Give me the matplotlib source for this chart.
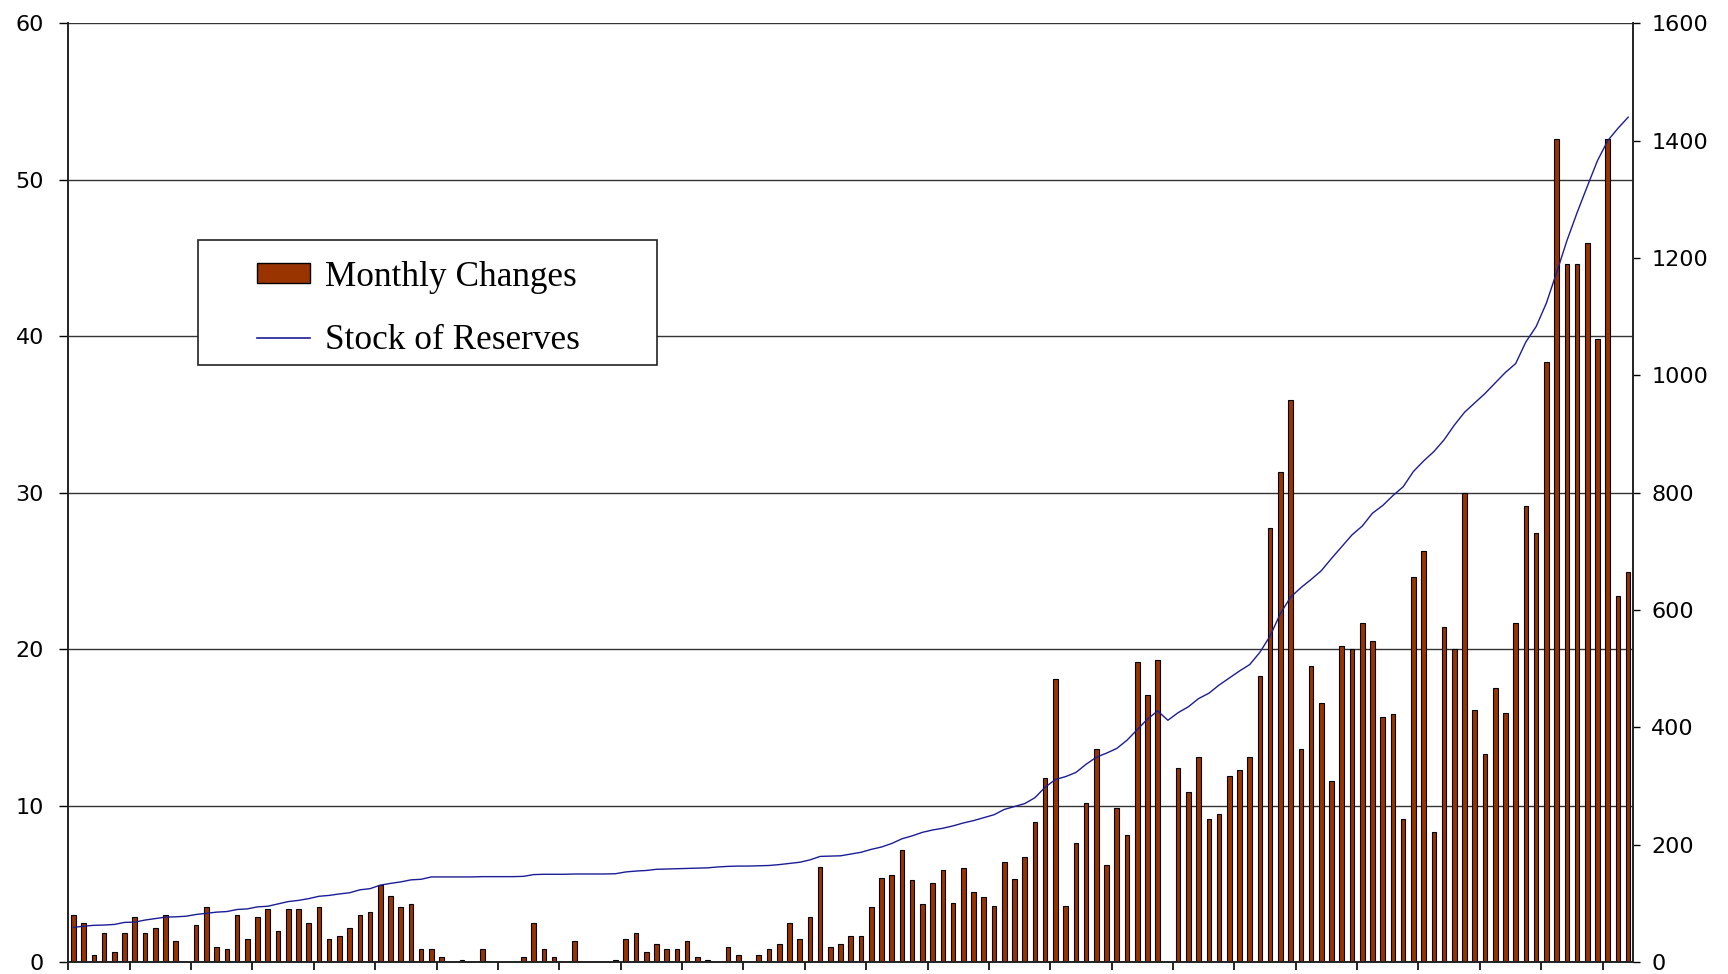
import numpy as np
import matplotlib.pyplot as plt
from matplotlib.patches import Rectangle
from matplotlib.lines import Line2D

# monthly data, 153 months
months = np.arange(153)

monthly_changes = [
    3.02, 2.51, 0.47, 1.83, 0.64, 1.83, 2.85, 1.83, 2.17, 3.02, 1.32, 0.0,
    2.34, 3.53, 0.98, 0.81, 3.02, 1.49, 2.85, 3.36, 2.00, 3.36, 3.36, 2.51,
    3.53, 1.49, 1.66, 2.17, 3.02, 3.19, 4.89, 4.21, 3.53, 3.70, 0.81, 0.81,
    0.30, 0.0, 0.15, 0.0, 0.81, 0.0, 0.0, 0.0, 0.30, 2.51, 0.81, 0.30,
    0.0, 1.32, 0.0, 0.0, 0.0, 0.15, 1.49, 1.83, 0.64, 1.15, 0.81, 0.81,
    1.32, 0.30, 0.15, 0.0, 0.98, 0.47, 0.0, 0.47, 0.81, 1.15, 2.51, 1.49,
    2.85, 6.08, 0.98, 1.15, 1.66, 1.66, 3.53, 5.40, 5.57, 7.15, 5.23, 3.70,
    5.06, 5.85, 3.76, 6.03, 4.47, 4.13, 3.59, 6.37, 5.33, 6.72, 8.96, 11.73,
    18.12, 3.59, 7.58, 10.17, 13.63, 6.20, 9.83, 8.12, 19.17, 17.08, 19.31, 0.0,
    12.40, 10.86, 13.09, 9.15, 9.49, 11.89, 12.25, 13.09, 18.26, 27.76, 31.35, 35.91,
    13.60, 18.95, 16.54, 11.54, 20.17, 20.00, 21.68, 20.50, 15.69, 15.86, 9.15, 24.59,
    26.27, 8.30, 21.40, 20.00, 30.00, 16.10, 13.30, 17.50, 15.90, 21.70, 29.15, 27.45,
    38.33, 52.63, 44.59, 44.59, 45.94, 39.82, 52.63, 23.40, 24.93,
]

stock_of_reserves = [
    59, 61, 62.5, 63, 64, 67.5, 68, 71.5, 74, 76.5, 77, 78,
    81, 83, 85, 86, 89.5, 90.5, 94, 95, 99, 103, 105, 108,
    112, 113.5, 116, 118, 123, 125, 131, 134, 136.5, 140, 141, 145,
    145, 145, 145, 145, 145.5, 145.5, 145.5, 145.5, 146, 149, 149.5, 149.5,
    149.5, 150, 150, 150, 150, 150.5, 153.5, 155, 156, 158, 158.5, 159,
    159.5, 160, 160.5, 162, 163, 163.5, 163.5, 164, 164.5, 166, 168, 170,
    174, 180, 180.5, 181, 184, 187, 192, 196, 202, 210, 215, 221,
    225, 228, 232, 237, 241, 246, 251, 260, 265, 270, 280, 298,
    311, 316, 323, 337, 349, 356, 364, 378, 396, 414, 428, 412,
    425, 435, 449, 458, 472, 484, 496, 507, 528, 556, 594, 622,
    638, 652, 667, 688, 708, 728, 743, 765, 778, 795, 810, 836,
    854, 870, 890, 915, 937, 953, 969, 987, 1005, 1020, 1057, 1083,
    1123, 1175, 1229, 1277, 1322, 1366, 1400, 1421, 1440,
]

left_ticks = [0, 10, 20, 30, 40, 50, 60]
right_ticks = [0, 200, 400, 600, 800, 1000, 1200, 1400, 1600]

bar_color = "#993300"
line_color = "#1c1c96"

plt.rcParams["font.family"] = ["DejaVu Sans"]

fig = plt.figure(figsize=(17.28, 9.74), dpi=100)
ax = fig.add_axes([68.3 / 1728, 12 / 974, 1565 / 1728, 938.7 / 974])

ax.bar(months, monthly_changes, width=0.45, color=bar_color,
       edgecolor="black", linewidth=0.8, zorder=2)
ax.set_xlim(-0.5, len(months) - 0.5)
ax.set_ylim(0, 60)
ax.set_yticks(left_ticks)
ax.set_xticks(np.arange(-0.5, len(months) - 0.5, 6))
ax.set_xticklabels([])
ax.yaxis.grid(True, color="#333333", linewidth=1.0)
ax.set_axisbelow(True)
ax.tick_params(axis="y", direction="out", length=6.5, width=1, labelsize=16, pad=11)
ax.tick_params(axis="x", direction="out", length=6, width=1.2)
for s in ["left", "bottom"]:
    ax.spines[s].set_linewidth(1.4)
    ax.spines[s].set_color("#222222")
ax.spines["top"].set_visible(False)
ax.spines["right"].set_visible(False)

ax2 = ax.twinx()
ax2.plot(months, stock_of_reserves, color=line_color, linewidth=1.0, zorder=3)
ax2.set_ylim(0, 1600)
ax2.set_yticks(right_ticks)
ax2.tick_params(axis="y", direction="out", length=5, width=1, labelsize=16, pad=8)
ax2.spines["right"].set_linewidth(1.4)
ax2.spines["right"].set_color("#222222")
ax2.spines["top"].set_visible(False)
ax2.spines["left"].set_visible(False)
ax2.spines["bottom"].set_visible(False)

# legend box
ax2.add_patch(Rectangle((0.0831, 0.636), 0.2929, 0.133, transform=ax2.transAxes,
                        facecolor="white", edgecolor="#222222", linewidth=1.2, zorder=5))
handles = [
    Rectangle((0, 0), 1, 1, facecolor=bar_color, edgecolor="black", linewidth=1),
    Line2D([0], [0], color=line_color, linewidth=1.2),
]
leg = ax2.legend(handles, ["Monthly Changes", "Stock of Reserves"],
                 loc="upper left", bbox_to_anchor=(0.1206, 0.747),
                 frameon=False, borderpad=0, borderaxespad=0,
                 handlelength=1.5, handleheight=0.48, handletextpad=0.42,
                 labelspacing=0.86, prop={"family": "Liberation Serif", "size": 25.4})
leg.set_zorder(6)

fig.savefig("out.png", dpi=100)
